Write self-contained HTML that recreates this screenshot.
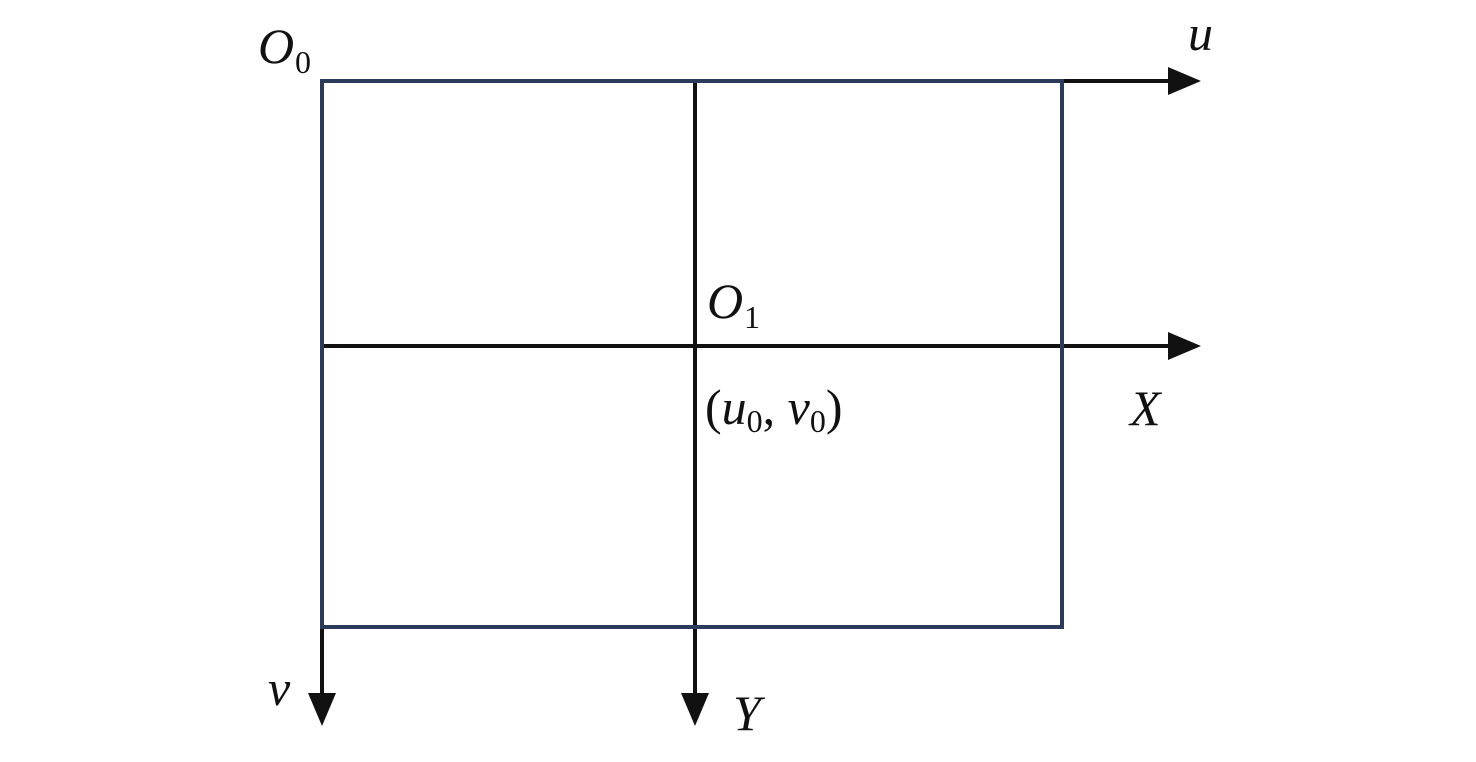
<!DOCTYPE html>
<html><head><style>html,body{margin:0;padding:0;background:#fff}</style></head>
<body>
<svg width="1476" height="757" viewBox="0 0 1476 757" xmlns="http://www.w3.org/2000/svg">
<g stroke="#111" stroke-width="4" fill="none">
<line x1="1062" y1="81" x2="1175" y2="81"/>
<line x1="322" y1="346" x2="1175" y2="346"/>
<line x1="695" y1="81" x2="695" y2="700"/>
<line x1="322" y1="627" x2="322" y2="700"/>
</g>
<rect x="322" y="81" width="740" height="546" fill="none" stroke="#2c3a5c" stroke-width="4"/>
<g fill="#111">
<polygon points="1168,67 1201,81 1168,95"/>
<polygon points="1168,332 1201,346 1168,360"/>
<polygon points="681,693 695,726 709,693"/>
<polygon points="308,693 322,726 336,693"/>
</g>
<g font-family="Liberation Serif, serif" font-size="50" fill="#111">
<text x="258" y="63" font-style="italic">O</text><text x="295" y="73" font-size="32">0</text>
<text x="1188" y="50" font-style="italic">u</text>
<text x="707" y="318" font-style="italic">O</text><text x="744" y="328" font-size="32">1</text>
<text x="705" y="424">(<tspan font-style="italic">u</tspan><tspan font-size="32" dy="8">0</tspan><tspan dy="-8">, </tspan><tspan font-style="italic">v</tspan><tspan font-size="32" dy="8">0</tspan><tspan dy="-8">)</tspan></text>
<text x="1130" y="425" font-style="italic">X</text>
<text x="268" y="705" font-style="italic">v</text>
<text x="733" y="730" font-style="italic">Y</text>
</g>
</svg>
</body></html>
